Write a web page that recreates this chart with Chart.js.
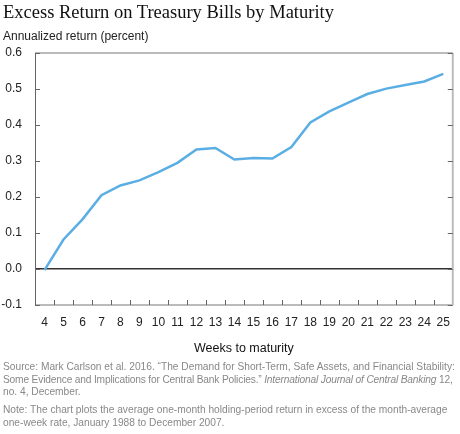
<!DOCTYPE html>
<html>
<head>
<meta charset="utf-8">
<script src="https://cdn.jsdelivr.net/npm/chart.js@4"></script>
<style>
  body { margin: 0; background: #fff; }
  #wrap { position: relative; width: 460px; height: 434px; font-family: "Liberation Sans", Arial, sans-serif; }
  #chart { position: absolute; left: 0; top: 0; }
  .title { position: absolute; left: 3px; top: 2px; font-family: "Liberation Serif", serif; font-size: 18.5px; color: #111; white-space: nowrap; }
  .ylab { position: absolute; left: 3px; top: 29px; font-size: 12px; color: #222; white-space: nowrap; }
  .note { position: absolute; left: 3px; font-size: 10.2px; line-height: 12.5px; color: #888; white-space: nowrap; }
  .tight { letter-spacing: -0.17px; }
</style>
</head>
<body>
<div id="wrap">
  <canvas id="chart" width="460" height="434"></canvas>
  <div class="title">Excess Return on Treasury Bills by Maturity</div>
  <div class="ylab">Annualized return (percent)</div>
  <div class="note" style="top:361px">Source: Mark Carlson et al. 2016. “The Demand for Short-Term, Safe Assets, and Financial Stability:<br><span class="tight">Some Evidence and Implications for Central Bank Policies.” <i>International Journal of Central Banking</i> 12,</span><br>no. 4, December.</div>
  <div class="note" style="top:404px">Note: The chart plots the average one-month holding-period return in excess of the month-average<br>one-week rate, January 1988 to December 2007.</div>
</div>
<script>
const weeks = ["4", "5", "6", "7", "8", "9", "10", "11", "12", "13", "14", "15", "16", "17", "18", "19", "20", "21", "22", "23", "24", "25"];
const excessReturn = [-0.003, 0.082, 0.138, 0.205, 0.232, 0.246, 0.269, 0.295, 0.332, 0.336, 0.304, 0.308, 0.307, 0.339, 0.407, 0.438, 0.462, 0.486, 0.501, 0.511, 0.521, 0.542];
const yTicks = [-0.1, 0.0, 0.1, 0.2, 0.3, 0.4, 0.5, 0.6];

// frame + inward tick marks
const framePlugin = {
  id: "frame",
  afterDraw(chart) {
    const ctx = chart.ctx;
    const a = chart.chartArea;
    const x = chart.scales.x, y = chart.scales.y;
    ctx.save();
    ctx.lineWidth = 2;
    ctx.strokeStyle = "#bbbbbb";
    ctx.beginPath();
    ctx.moveTo(a.left, a.top); ctx.lineTo(a.right, a.top);
    ctx.moveTo(a.right, a.top); ctx.lineTo(a.right, a.bottom);
    ctx.moveTo(a.left, a.bottom); ctx.lineTo(a.right, a.bottom);
    ctx.stroke();
    ctx.lineWidth = 1;
    ctx.strokeStyle = "#666666";
    ctx.beginPath();
    ctx.moveTo(a.left + 0.5, a.top); ctx.lineTo(a.left + 0.5, a.bottom);
    yTicks.forEach(v => {
      const py = Math.round(y.getPixelForValue(v)) + 0.5;
      ctx.moveTo(a.left, py); ctx.lineTo(a.left + 5, py);
      ctx.moveTo(a.right, py); ctx.lineTo(a.right - 5, py);
    });
    for (let i = 0; i < weeks.length - 1; i++) {
      const px = Math.round((x.getPixelForValue(i) + x.getPixelForValue(i + 1)) / 2) + 0.5;
      ctx.moveTo(px, a.bottom); ctx.lineTo(px, a.bottom - 5);
    }
    ctx.stroke();
    ctx.restore();
  }
};

new Chart(document.getElementById("chart"), {
  type: "line",
  data: {
    labels: weeks,
    datasets: [{
      data: excessReturn,
      borderColor: "#5aaee3",
      borderWidth: 2.5,
      pointRadius: 0,
      tension: 0,
      fill: false
    }]
  },
  options: {
    responsive: false,
    animation: false,
    layout: { padding: { top: 53, right: 2, bottom: 74, left: 0 } },
    plugins: { legend: { display: false }, tooltip: { enabled: false } },
    scales: {
      x: {
        offset: true,
        grid: { display: false, drawTicks: false },
        border: { display: false },
        ticks: { color: "#222", font: { family: "Liberation Sans", size: 12 }, padding: 10, maxRotation: 0, autoSkip: false },
        title: { display: true, text: "Weeks to maturity", color: "#111", font: { family: "Liberation Sans", size: 12.5 }, padding: { top: 6, bottom: 4 } },
        afterFit: s => { s.height = 55; }
      },
      y: {
        min: -0.1,
        max: 0.6,
        afterBuildTicks: s => { s.ticks = yTicks.map(v => ({ value: v })); },
        grid: {
          drawTicks: false,
          color: c => (c.tick && c.tick.value === 0 ? "#333333" : "rgba(0,0,0,0)"),
          lineWidth: 1.5
        },
        border: { display: false },
        ticks: { color: "#222", font: { family: "Liberation Sans", size: 12 }, padding: 13, callback: v => v.toFixed(1) },
        afterFit: s => { s.width = 35; }
      }
    }
  },
  plugins: [framePlugin]
});
</script>
</body>
</html>
